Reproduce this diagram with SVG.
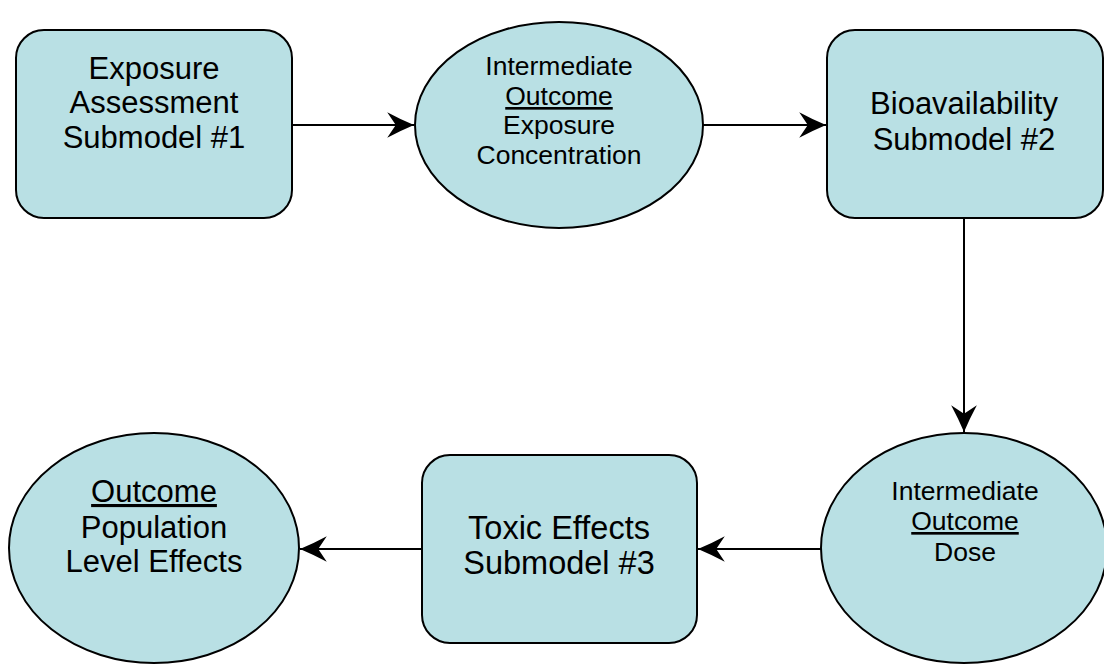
<svg xmlns="http://www.w3.org/2000/svg" width="1104" height="664" viewBox="0 0 1104 664">
<defs>
<style>
.node{fill:#B9E0E4;stroke:#000;stroke-width:2}
.t{font-family:"Liberation Sans",Arial,sans-serif;fill:#000;text-anchor:middle}
.big{font-size:31px}
.xl{font-size:32.5px}
.small{font-size:26.5px}
.u{text-decoration:underline}
.conn{stroke:#000;stroke-width:2;fill:none}
</style>
<marker id="arr" markerUnits="userSpaceOnUse" markerWidth="30" markerHeight="30" viewBox="-26 -14 28 28" refX="0" refY="0" orient="auto">
<path d="M0,0 Q-12,-5 -25,-12 L-17,0 L-25,12 Q-12,5 0,0 Z" fill="#000"/>
</marker>
</defs>
<rect width="1104" height="664" fill="#fff"/>
<g id="connectors">
<line class="conn" x1="292" y1="125" x2="414" y2="125" marker-end="url(#arr)"/>
<line class="conn" x1="703" y1="125" x2="826" y2="125" marker-end="url(#arr)"/>
<line class="conn" x1="964" y1="218" x2="964" y2="432" marker-end="url(#arr)"/>
<line class="conn" x1="821" y1="549" x2="698" y2="549" marker-end="url(#arr)"/>
<line class="conn" x1="422" y1="549" x2="300" y2="549" marker-end="url(#arr)"/>
</g>
<g id="exposure-assessment">
<rect class="node" x="16" y="30" width="276" height="188" rx="28" ry="28"/>
<text class="t big" x="154" y="79">Exposure</text>
<text class="t big" x="154" y="113">Assessment</text>
<text class="t big" x="154" y="148">Submodel #1</text>
</g>
<g id="exposure-concentration">
<ellipse class="node" cx="559" cy="125" rx="144" ry="103"/>
<text class="t small" x="559" y="75">Intermediate</text>
<text class="t small u" x="559" y="105">Outcome</text>
<text class="t small" x="559" y="134">Exposure</text>
<text class="t small" x="559" y="164">Concentration</text>
</g>
<g id="bioavailability">
<rect class="node" x="827" y="30" width="276" height="188" rx="28" ry="28"/>
<text class="t big" x="964" y="114">Bioavailability</text>
<text class="t big" x="964" y="150">Submodel #2</text>
</g>
<g id="dose">
<ellipse class="node" cx="964" cy="548" rx="143" ry="115"/>
<text class="t small" x="965" y="500">Intermediate</text>
<text class="t small u" x="965" y="530">Outcome</text>
<text class="t small" x="965" y="561">Dose</text>
</g>
<g id="toxic-effects">
<rect class="node" x="422" y="455" width="275" height="188" rx="28" ry="28"/>
<text class="t xl" x="559" y="539">Toxic Effects</text>
<text class="t xl" x="559" y="574">Submodel #3</text>
</g>
<g id="population-effects">
<ellipse class="node" cx="154" cy="548" rx="145" ry="115"/>
<text class="t big u" x="154" y="502">Outcome</text>
<text class="t big" x="154" y="538">Population</text>
<text class="t big" x="154" y="572">Level Effects</text>
</g>
</svg>
